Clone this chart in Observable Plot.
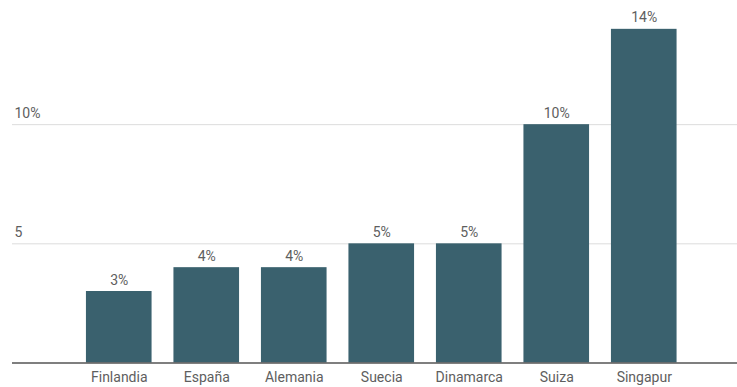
<!DOCTYPE html>
<html>
<head>
<meta charset="utf-8">
<script src="https://cdn.jsdelivr.net/npm/d3@7"></script>
<script src="https://cdn.jsdelivr.net/npm/@observablehq/plot@0.6"></script>
<style>
  html, body { margin: 0; padding: 0; background: #fff; }
  #chart svg { display: block; }
</style>
</head>
<body>
<div id="chart"></div>
<script>
const countries = ["Finlandia", "España", "Alemania", "Suecia", "Dinamarca", "Suiza", "Singapur"];
const values = [3, 4, 4, 5, 5, 10, 14];
const yTicks = [5, 10];
const yTickLabels = ["5", "10%"];

const data = countries.map((c, i) => ({country: c, value: values[i]}));
const ticks = yTicks.map((v, i) => ({v, label: yTickLabels[i]}));

const marginLeft = 75, marginRight = 49.5;
const fs = 14;
const textColor = "#5e5e5e";

const chart = Plot.plot({
  width: 737,
  height: 387,
  marginTop: 5,
  marginBottom: 24.5,
  marginLeft,
  marginRight,
  style: {fontFamily: "Roboto, 'Noto Sans', sans-serif", fontSize: fs + "px", color: textColor, background: "#fff"},
  x: {domain: countries, paddingInner: 0.25, paddingOuter: 0.125, round: false, label: null},
  y: {domain: [0, 15], axis: null},
  marks: [
    Plot.ruleY(yTicks, {stroke: "#dcdcdc", strokeWidth: 1, insetLeft: -(marginLeft - 12), insetRight: -marginRight}),
    Plot.barY(data, {x: "country", y: "value", fill: "#3a616e"}),
    Plot.ruleY([0], {stroke: "#555", strokeWidth: 1.3, insetLeft: -(marginLeft - 12), insetRight: -marginRight}),
    Plot.text(data, {x: "country", y: "value", text: d => d.value + "%", dy: -7, lineAnchor: "bottom", fill: textColor, fontSize: fs}),
    Plot.text(ticks, {y: "v", text: "label", frameAnchor: "left", textAnchor: "start", dx: -(marginLeft - 14), dy: -7, lineAnchor: "bottom", fill: textColor, fontSize: fs}),
    Plot.axisX({tickSize: 0, tickPadding: 9, fontSize: fs, fill: textColor, label: null})
  ]
});
document.getElementById("chart").appendChild(chart);
</script>
</body>
</html>
